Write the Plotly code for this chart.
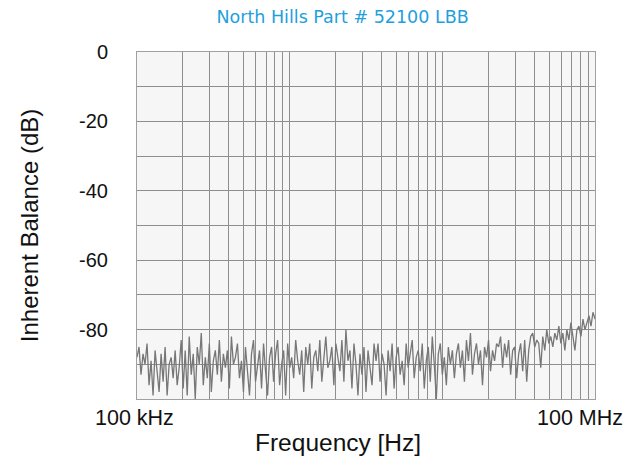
import numpy as np
import plotly.graph_objects as go

title_text = "North Hills Part # 52100 LBB"
x_title = "Frequency [Hz]"
y_title = "Inherent Balance (dB)"
y_tick_values = [0, -20, -40, -60, -80]
y_tick_labels = ["0", "-20", "-40", "-60", "-80"]
x_tick_labels = ["100 kHz", "100 MHz"]

# Inherent balance (dB), left to right
balance_db = [
    -88, -85, -93, -87, -90, -84, -96, -89, -99, -86, -92, -98, -87, -95, -85, -99, -90, -88, -94, -86,
    -96, -91, -83, -97, -86, -99, -82, -93, -87, -100, -85, -90, -81, -96, -88, -94, -84, -98, -89, -86,
    -93, -83, -95, -87, -91, -86, -97, -82, -90, -88, -84, -94, -89, -98, -85, -92, -99, -87, -83, -95,
    -90, -86, -97, -84, -92, -99, -88, -85, -95, -87, -83, -96, -90, -86, -99, -84, -91, -88, -94, -83,
    -89, -93, -86, -98, -85, -90, -84, -97, -88, -86, -92, -83, -95, -87, -82, -91, -89, -85, -96, -84,
    -88, -92, -83, -95, -80, -89, -86, -97, -84, -90, -99, -87, -93, -85, -98, -86, -91, -96, -84, -89,
    -84, -95, -87, -90, -99, -86, -92, -84, -97, -88, -85, -93, -89, -96, -84, -91, -87, -83, -94, -88,
    -86, -92, -84, -97, -89, -85, -95, -82, -90, -100, -87, -84, -93, -88, -96, -85, -90, -86, -94, -87,
    -84, -91, -86, -95, -83, -89, -81, -93, -87, -84, -90, -86, -96, -85, -88, -83, -92, -86, -89, -84,
    -85, -82, -91, -84, -88, -83, -93, -86, -85, -94, -87, -84, -92, -83, -95, -86, -82, -81, -85, -83,
    -84, -91, -82, -86, -80, -84, -82, -85, -81, -83, -79, -84, -81, -86, -80, -83, -78, -82, -86, -80,
    -79, -82, -77, -80, -78, -76, -79, -75, -77,
]
# sweep: 100 kHz to 100 MHz, log-spaced samples
freq_hz = np.logspace(5, 8, len(balance_db))

grid_x = [k * 10 ** d for d in (5, 6, 7) for k in range(1, 10)] + [1e8]
grid_y = list(range(-100, 1, 10))

fig = go.Figure()
fig.add_trace(go.Scatter(
    x=freq_hz, y=balance_db, mode="lines",
    line=dict(color="#777777", width=1.3),
    hoverinfo="skip", showlegend=False,
))

sans = "Liberation Sans, Arial, sans-serif"

fig.update_layout(
    width=630, height=460,
    margin=dict(l=129, r=43, t=44, b=69),
    paper_bgcolor="white",
    plot_bgcolor="#f6f6f6",
    title=dict(
        text=title_text, x=0.531, xanchor="center", y=0.980, yanchor="middle",
        font=dict(family="DejaVu Sans, sans-serif", size=17.5, color="#1fa0dc"),
    ),
    xaxis=dict(
        type="log", range=[5, 8],
        tickvals=grid_x, ticktext=[""] * len(grid_x),
        showgrid=True, gridcolor="#8e8e8e", gridwidth=1.4,
        showline=True, linecolor="#a0a0a0", linewidth=1, mirror=True,
        zeroline=False, ticks="",
    ),
    yaxis=dict(
        range=[-100, 0],
        tickvals=grid_y, ticktext=[""] * len(grid_y),
        showgrid=True, gridcolor="#8e8e8e", gridwidth=1.4,
        showline=True, linecolor="#a0a0a0", linewidth=1, mirror=True,
        zeroline=False, ticks="",
        title=dict(text=y_title, font=dict(family=sans, size=24, color="#111111"), standoff=88),
    ),
)

annotations = []
for v, t in zip(y_tick_values, y_tick_labels):
    annotations.append(dict(
        x=0, xref="paper", y=v, yref="y", text=t, showarrow=False,
        xanchor="right", yanchor="middle", xshift=-27,
        font=dict(family=sans, size=20, color="#111111"),
    ))
for xv, t, shift in zip([5, 8], x_tick_labels, [-2.5, -15.5]):
    annotations.append(dict(
        x=xv, xref="x", y=0, yref="paper", text=t, showarrow=False,
        xanchor="center", yanchor="top", xshift=shift, yshift=-5,
        font=dict(family=sans, size=21.5, color="#111111"),
    ))
annotations.append(dict(
    x=0.5, xref="paper", y=0, yref="paper", text=x_title, showarrow=False,
    xanchor="center", yanchor="middle", xshift=-28, yshift=-43,
    font=dict(family=sans, size=24.5, color="#111111"),
))
fig.update_layout(annotations=annotations)

fig.write_html("out.html")
